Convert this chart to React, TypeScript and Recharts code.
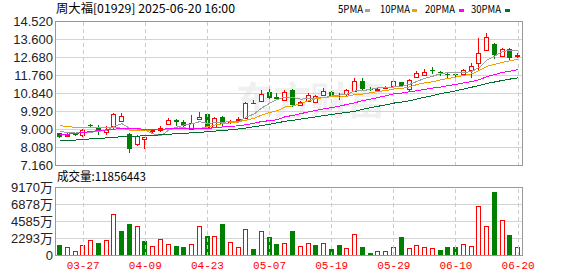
import React from 'react';
import { ComposedChart, Bar, Line, XAxis, YAxis, CartesianGrid, ReferenceLine } from 'recharts';

// 周大福 01929 daily K-line, 2025-03-24 .. 2025-06-20
const dates = [
  '03-24', '03-25', '03-26', '03-27', '03-28', '03-31', '04-01', '04-02', '04-03', '04-07',
  '04-08', '04-09', '04-10', '04-11', '04-14', '04-15', '04-16', '04-17', '04-22', '04-23',
  '04-24', '04-25', '04-28', '04-29', '04-30', '05-02', '05-06', '05-07', '05-08', '05-09',
  '05-12', '05-13', '05-14', '05-15', '05-16', '05-19', '05-20', '05-21', '05-22', '05-23',
  '05-26', '05-27', '05-28', '05-29', '05-30', '06-02', '06-03', '06-04', '06-05', '06-06',
  '06-09', '06-10', '06-11', '06-12', '06-13', '06-16', '06-17', '06-18', '06-19', '06-20',
];
const opens = [
  8.81, 8.68, 8.78, 8.72, 9.23, 9.15, 8.88, 9.17, 9.44, 8.78,
  8.27, 8.52, 8.92, 8.97, 9.29, 9.46, 9.37, 9.04, 9.55, 9.80,
  9.15, 9.66, 9.36, 9.50, 9.59, 10.36, 10.48, 10.94, 10.64, 10.53,
  11.0, 10.26, 10.45, 10.40, 10.76, 10.94, 10.72, 10.79, 10.99, 11.46,
  11.07, 11.04, 11.12, 11.21, 11.42, 11.08, 11.67, 11.80, 12.05, 11.93,
  11.86, 11.84, 11.84, 12.02, 12.40, 13.05, 13.38, 12.78, 13.12, 12.76,
];
const highs = [
  8.84, 8.80, 8.82, 9.02, 9.30, 9.24, 9.20, 9.84, 9.85, 8.80,
  8.72, 8.62, 9.05, 9.19, 9.60, 9.55, 9.50, 9.72, 9.88, 9.85,
  9.62, 9.70, 9.50, 9.66, 10.40, 10.52, 11.03, 11.20, 10.85, 11.03,
  11.05, 10.48, 10.86, 10.78, 11.10, 10.99, 10.85, 11.08, 11.61, 11.61,
  11.15, 11.17, 11.20, 11.55, 11.45, 11.60, 11.99, 12.09, 12.17, 12.00,
  11.94, 11.86, 12.08, 12.42, 13.70, 13.93, 13.40, 13.19, 13.14, 12.90,
];
const lows = [
  8.57, 8.62, 8.66, 8.62, 9.13, 8.73, 8.73, 9.04, 9.43, 7.79,
  8.18, 8.01, 8.80, 8.86, 9.26, 9.20, 9.12, 8.95, 9.46, 8.95,
  9.10, 9.15, 9.30, 9.42, 9.55, 10.29, 10.40, 10.55, 10.55, 10.48,
  10.17, 10.22, 10.40, 10.35, 10.69, 10.65, 10.52, 10.72, 10.97, 10.99,
  10.95, 10.97, 11.05, 11.18, 11.20, 10.95, 11.62, 11.72, 11.86, 11.74,
  11.62, 11.68, 11.80, 11.62, 11.99, 13.00, 12.60, 12.75, 12.53, 12.66,
];
const closes = [
  8.61, 8.73, 8.75, 8.99, 9.20, 8.86, 8.96, 9.80, 9.68, 7.98,
  8.69, 8.61, 9.00, 9.06, 9.50, 9.40, 9.17, 9.32, 9.63, 9.04,
  9.60, 9.26, 9.45, 9.56, 10.35, 10.32, 10.84, 10.61, 10.58, 10.91,
  10.23, 10.43, 10.77, 10.70, 10.99, 10.68, 10.66, 11.03, 11.48, 11.08,
  11.02, 11.09, 11.15, 11.50, 11.22, 11.54, 11.88, 11.96, 11.99, 11.90,
  11.82, 11.80, 12.02, 12.27, 12.92, 13.75, 12.83, 13.12, 12.66, 12.80,
];
// volume in 万股
const volumes = [
  1430, 1115, 580, 1385, 2055, 1700, 2055, 5540, 3300, 4240,
  3930, 1960, 1250, 2190, 1520, 1300, 1160, 1520, 3930, 2640,
  2590, 4240, 1785, 1115, 3530, 895, 3260, 2500, 1565, 1655,
  3300, 1300, 1655, 1430, 1655, 895, 1430, 1030, 2860, 1160,
  360, 580, 580, 1160, 2500, 985, 1385, 1160, 985, 760,
  1160, 1160, 1520, 1250, 6610, 3930, 8530, 4735, 2770, 1186,
];
const ma5 = [
  8.90, 8.85, 8.82, 8.83, 8.86, 8.91, 8.95, 9.16, 9.30, 9.06,
  9.02, 8.95, 8.79, 8.67, 8.97, 9.11, 9.23, 9.29, 9.40, 9.31,
  9.35, 9.37, 9.40, 9.38, 9.64, 9.79, 10.10, 10.34, 10.54, 10.65,
  10.63, 10.55, 10.58, 10.61, 10.62, 10.71, 10.76, 10.81, 10.97, 10.99,
  11.05, 11.14, 11.16, 11.17, 11.20, 11.30, 11.46, 11.62, 11.72, 11.85,
  11.91, 11.89, 11.91, 11.96, 12.17, 12.55, 12.76, 12.98, 13.06, 13.03,
];
const ma10 = [
  9.20, 9.15, 9.11, 9.09, 9.09, 9.08, 9.08, 9.10, 9.07, 8.96,
  8.96, 8.95, 8.98, 8.98, 9.01, 9.07, 9.09, 9.04, 9.04, 9.14,
  9.23, 9.30, 9.34, 9.39, 9.48, 9.57, 9.74, 9.87, 9.96, 10.15,
  10.21, 10.33, 10.46, 10.57, 10.64, 10.67, 10.66, 10.70, 10.79, 10.81,
  10.88, 10.95, 10.99, 11.07, 11.09, 11.18, 11.30, 11.39, 11.44, 11.53,
  11.61, 11.68, 11.76, 11.84, 12.01, 12.23, 12.33, 12.44, 12.51, 12.60,
];
const ma20 = [
  8.72, 8.76, 8.80, 8.85, 8.90, 8.94, 8.98, 9.02, 9.05, 9.04,
  9.03, 9.02, 9.02, 9.02, 9.03, 9.03, 9.03, 9.03, 9.04, 9.05,
  9.10, 9.13, 9.16, 9.19, 9.25, 9.32, 9.41, 9.45, 9.50, 9.65,
  9.72, 9.81, 9.90, 9.98, 10.06, 10.12, 10.20, 10.28, 10.37, 10.48,
  10.55, 10.64, 10.72, 10.82, 10.86, 10.93, 10.98, 11.05, 11.12, 11.17,
  11.24, 11.31, 11.38, 11.45, 11.55, 11.70, 11.81, 11.92, 11.98, 12.06,
];
const ma30 = [
  8.41, 8.44, 8.46, 8.49, 8.52, 8.55, 8.57, 8.60, 8.63, 8.64,
  8.66, 8.68, 8.70, 8.73, 8.76, 8.78, 8.80, 8.83, 8.86, 8.88,
  8.92, 8.95, 8.99, 9.03, 9.08, 9.14, 9.20, 9.27, 9.34, 9.42,
  9.47, 9.53, 9.59, 9.65, 9.71, 9.77, 9.83, 9.87, 9.93, 10.03,
  10.11, 10.19, 10.26, 10.35, 10.40, 10.47, 10.56, 10.65, 10.73, 10.83,
  10.90, 10.98, 11.07, 11.16, 11.25, 11.36, 11.43, 11.51, 11.58, 11.64,
];

const priceTicks = [7.16, 8.08, 9.0, 9.92, 10.84, 11.76, 12.68, 13.6, 14.52];
const volTicks = [0, 2293, 4585, 6878, 9170];
const dateTicks = ['03-27', '04-09', '04-23', '05-07', '05-19', '05-29', '06-10', '06-20'];

const UP = '#ff0000';
const DOWN = '#008000';
const maLines = [
  { key: 'ma5', name: '5PMA', color: '#a0a0a0', tx: 338, tw: 25, dx: 365 },
  { key: 'ma10', name: '10PMA', color: '#f0a000', tx: 380, tw: 30, dx: 412 },
  { key: 'ma20', name: '20PMA', color: '#ff00ff', tx: 425, tw: 30, dx: 459 },
  { key: 'ma30', name: '30PMA', color: '#006e2e', tx: 471, tw: 30, dx: 505 },
];

const rows = dates.map((date, i) => ({
  date,
  open: opens[i],
  high: highs[i],
  low: lows[i],
  close: closes[i],
  range: [lows[i], highs[i]],
  vol: volumes[i],
  volUp: i === 0 ? closes[i] >= opens[i] : closes[i] >= closes[i - 1],
  ma5: ma5[i],
  ma10: ma10[i],
  ma20: ma20[i],
  ma30: ma30[i],
}));

const Candle = (props: any) => {
  const { x, y, width, height, payload } = props;
  const { open, high, low, close } = payload;
  if (!height || high <= low) return null;
  const k = height / (high - low);
  const py = (v: number) => Math.round(y + (high - v) * k);
  const L = Math.round(x + width / 2 - 2.5);
  const mid = L + 2.5;
  const yT = py(Math.max(open, close));
  const yB = py(Math.min(open, close));
  const bodyH = Math.max(yB - yT, 1);
  if (close >= open) {
    return (
      <g>
        <line x1={mid} x2={mid} y1={py(high)} y2={yT} stroke={UP} />
        <line x1={mid} x2={mid} y1={yT + bodyH} y2={py(low)} stroke={UP} />
        <rect x={L + 0.5} y={yT + 0.5} width={4} height={bodyH} fill="#fff" stroke={UP} />
      </g>
    );
  }
  return (
    <g>
      <line x1={mid} x2={mid} y1={py(high)} y2={py(low)} stroke={DOWN} />
      <rect x={L} y={yT} width={5} height={bodyH} fill={DOWN} />
    </g>
  );
};

const VolumeBar = (props: any) => {
  const { x, y, width, height, payload } = props;
  if (!height) return null;
  const L = Math.round(x + width / 2 - 2.5);
  const top = Math.round(y);
  const bottom = Math.round(y + height);
  if (payload.volUp) {
    return <rect x={L + 0.5} y={top + 0.5} width={4} height={Math.max(bottom - top - 1, 1)} fill="#fff" stroke={UP} />;
  }
  return <rect x={L} y={top} width={5} height={bottom - top} fill={DOWN} />;
};

const axisTick = { fontSize: 13, fill: '#222', fontFamily: '"Liberation Sans", Arial, sans-serif' };
const cjk = '"Noto Sans CJK SC", sans-serif';

export default function App() {
  return (
    <div style={{ position: 'absolute', left: 0, top: 0, width: 578, height: 276, background: '#fff', overflow: 'hidden' }}>
      <style>{'.kline svg { shape-rendering: crispEdges; overflow: visible; }'}</style>

      {/* 东方财富 watermark */}
      <div style={{ position: 'absolute', left: 236, top: 70, fontSize: 38, fontWeight: 700, color: '#f0f0f0', fontFamily: cjk, letterSpacing: -1, whiteSpace: 'nowrap' }}>
        东方财富
      </div>

      <div className="kline" style={{ position: 'absolute', left: 0, top: 0 }}>
        <ComposedChart width={578} height={173} data={rows} margin={{ top: 21.5, right: 56, bottom: 7.5, left: 0 }}>
          <CartesianGrid vertical={false} stroke="#d4d4d4" />
          <XAxis dataKey="date" hide />
          <YAxis
            domain={[7.16, 14.52]}
            ticks={priceTicks}
            interval={0}
            width={56}
            tickLine={false}
            axisLine={false}
            tickSize={0}
            tickMargin={3}
            tick={axisTick}
            tickFormatter={(v: number) => v.toFixed(3)}
          />
          {dateTicks.map((d) => (
            <ReferenceLine key={d} x={d} stroke="#cccccc" strokeDasharray="4 3" />
          ))}
          <Bar dataKey="range" barSize={5} shape={(p: any) => <Candle {...p} />} isAnimationActive={false} />
          {maLines.map((m) => (
            <Line key={m.key} dataKey={m.key} stroke={m.color} strokeWidth={1} dot={false} activeDot={false} type="linear" isAnimationActive={false} />
          ))}
        </ComposedChart>
      </div>

      <div className="kline" style={{ position: 'absolute', left: 0, top: 166 }}>
        <ComposedChart width={578} height={110} data={rows} margin={{ top: 21.5, right: 56, bottom: 0.5, left: 0 }}>
          <CartesianGrid vertical={false} stroke="#d4d4d4" />
          <XAxis
            dataKey="date"
            ticks={dateTicks}
            interval={0}
            height={20}
            tickLine={false}
            axisLine={false}
            tickSize={0}
            tickMargin={6}
            tick={{ fontSize: 11, fill: UP, fontFamily: '"Liberation Mono", monospace' }}
          />
          <YAxis
            domain={[0, 9170]}
            ticks={volTicks}
            interval={0}
            width={56}
            tickLine={false}
            axisLine={false}
            tickSize={0}
            tickMargin={3}
            tick={{ ...axisTick, fontFamily: '"Liberation Sans", "Noto Sans CJK SC", sans-serif' }}
            tickFormatter={(v: number) => (v === 0 ? '0' : `${v}万`)}
          />
          {dateTicks.map((d) => (
            <ReferenceLine key={d} x={d} stroke="#cccccc" strokeDasharray="4 3" />
          ))}
          <Bar dataKey="vol" barSize={5} shape={(p: any) => <VolumeBar {...p} />} isAnimationActive={false} />
        </ComposedChart>
      </div>

      {/* panel frames */}
      <div style={{ position: 'absolute', left: 55, top: 21, width: 468, height: 145, border: '1px solid #999', boxSizing: 'border-box', pointerEvents: 'none' }} />
      <div style={{ position: 'absolute', left: 55, top: 187, width: 468, height: 69, border: '1px solid #999', boxSizing: 'border-box', pointerEvents: 'none' }} />

      <svg width={578} height={276} style={{ position: 'absolute', left: 0, top: 0, pointerEvents: 'none' }}>
        <text x={56} y={12.7} fontSize={12} fill="#000" fontFamily={cjk} textLength={179} lengthAdjust="spacingAndGlyphs">
          周大福[01929] 2025-06-20 16:00
        </text>
        {maLines.map((m) => (
          <g key={m.key}>
            <text x={m.tx} y={12.7} fontSize={11} fill="#000" fontFamily={cjk} textLength={m.tw} lengthAdjust="spacingAndGlyphs">
              {m.name}
            </text>
            <rect x={m.dx} y={9} width={5} height={3} fill={m.color} />
          </g>
        ))}
        <text x={57} y={180.7} fontSize={12} fill="#000" fontFamily={cjk} textLength={89} lengthAdjust="spacingAndGlyphs">
          成交量:11856443
        </text>
      </svg>
    </div>
  );
}
